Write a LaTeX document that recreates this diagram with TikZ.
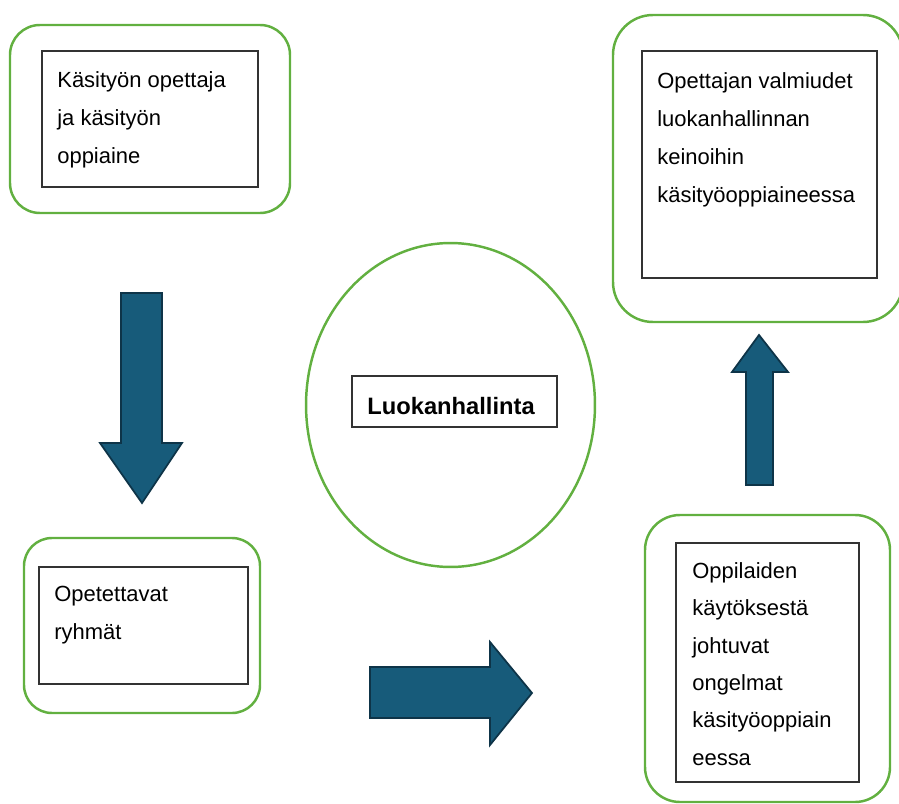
\documentclass[tikz,border=0pt]{standalone}
\usepackage{fontspec}
\setmainfont{Liberation Sans}

\definecolor{boxgreen}{RGB}{98,176,64}
\definecolor{arrowblue}{RGB}{23,91,122}
\definecolor{arrowedge}{RGB}{14,52,72}

\tikzset{
	outerbox/.style={draw=boxgreen, line width=1.4pt},
	innerbox/.style={draw=black!80, line width=0.8pt},
	boxtext/.style={anchor=north west, inner sep=0pt, align=left, font=\fontsize{12.5}{21.6}\selectfont},
	blockarrow/.style={fill=arrowblue, draw=arrowedge, line width=1pt, line join=miter}
}

\begin{document}
\begin{tikzpicture}[x=0.02cm, y=-0.02cm]
			\useasboundingbox (0,0) rectangle (899,804);
			%%%%% START %%%%%
			
			% top left
			\draw[outerbox, rounded corners=0.6cm] (10,25) rectangle (290,213);
			\draw[innerbox] (42,51) rectangle (258,187);
			\node[boxtext] (opettaja) at (57,71) {Käsityön opettaja\\ja käsityön\\oppiaine};
			
			% top right
			\draw[outerbox, rounded corners=0.8cm] (613,15) rectangle (903,322);
			\draw[innerbox] (642,51) rectangle (877,278);
			\node[boxtext] (valmiudet) at (657,72) {Opettajan valmiudet\\luokanhallinnan\\keinoihin\\käsityöoppiaineessa};
			
			% bottom left
			\draw[outerbox, rounded corners=0.56cm] (24,538) rectangle (260,713);
			\draw[innerbox] (39,567) rectangle (248,684);
			\node[boxtext] (ryhmat) at (54,586) {Opetettavat\\ryhmät};
			
			% bottom right
			\draw[outerbox, rounded corners=0.7cm] (645,515) rectangle (890,802);
			\draw[innerbox] (676,543) rectangle (859,782);
			\node[boxtext, font=\fontsize{12.5}{21.3}\selectfont] (ongelmat) at (692,562) {Oppilaiden\\käytöksestä\\johtuvat\\ongelmat\\käsityöoppiain\\eessa};
			
			% middle
			\draw[outerbox] (450.5,405) ellipse (2.89cm and 3.24cm);
			\draw[innerbox] (352,376) rectangle (557,427);
			\node[anchor=base west, inner sep=0pt, font=\fontsize{13.5}{16}\selectfont\bfseries] (luokan) at (367,414) {Luokanhallinta};
			
			% arrows
			\draw[blockarrow] (121,293) -- (162,293) -- (162,443) -- (182,443) -- (142,503) -- (100,443) -- (121,443) -- cycle;
			\draw[blockarrow] (370,667) -- (490,667) -- (490,642) -- (532,693) -- (490,745) -- (490,718) -- (370,718) -- cycle;
			\draw[blockarrow] (746,485) -- (746,372) -- (732,372) -- (759,335) -- (788,372) -- (773,372) -- (773,485) -- cycle;
			
			%%%%% END %%%%%
\end{tikzpicture}
\end{document}
